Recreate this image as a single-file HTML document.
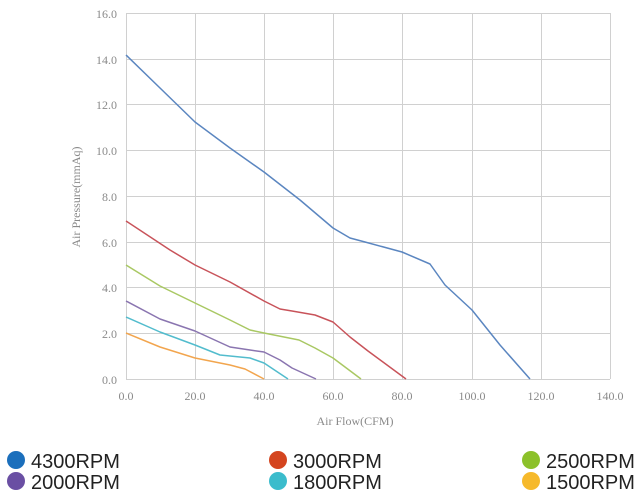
<!DOCTYPE html>
<html><head><meta charset="utf-8"><style>
html,body{margin:0;padding:0;background:#fff;width:640px;height:500px;overflow:hidden}
svg{display:block}
.t{font-family:"Liberation Serif",serif;font-size:12px;fill:#8a8a8a}
.l{font-family:"Liberation Sans",sans-serif;font-size:20px;fill:#222}
</style></head><body>
<svg width="640" height="500" viewBox="0 0 640 500">
<g stroke="#d0d0d0" stroke-width="1" fill="none">
<line x1="126" y1="13.5" x2="610" y2="13.5"/>
<line x1="126" y1="59.5" x2="610" y2="59.5"/>
<line x1="126" y1="104.5" x2="610" y2="104.5"/>
<line x1="126" y1="150.5" x2="610" y2="150.5"/>
<line x1="126" y1="196.5" x2="610" y2="196.5"/>
<line x1="126" y1="242.5" x2="610" y2="242.5"/>
<line x1="126" y1="287.5" x2="610" y2="287.5"/>
<line x1="126" y1="333.5" x2="610" y2="333.5"/>
<line x1="126" y1="379.5" x2="610" y2="379.5"/>
<line x1="126.5" y1="13" x2="126.5" y2="379"/>
<line x1="195.5" y1="13" x2="195.5" y2="379"/>
<line x1="264.5" y1="13" x2="264.5" y2="379"/>
<line x1="333.5" y1="13" x2="333.5" y2="379"/>
<line x1="402.5" y1="13" x2="402.5" y2="379"/>
<line x1="472.5" y1="13" x2="472.5" y2="379"/>
<line x1="541.5" y1="13" x2="541.5" y2="379"/>
<line x1="610.5" y1="13" x2="610.5" y2="379"/>
</g>
<g class="t" text-anchor="end">
<text x="117" y="18">16.0</text><text x="117" y="64">14.0</text><text x="117" y="109">12.0</text>
<text x="117" y="155">10.0</text><text x="117" y="201">8.0</text><text x="117" y="247">6.0</text>
<text x="117" y="292">4.0</text><text x="117" y="338">2.0</text><text x="117" y="384">0.0</text>
</g>
<g class="t" text-anchor="middle">
<text x="126" y="400">0.0</text><text x="195" y="400">20.0</text><text x="264" y="400">40.0</text>
<text x="333" y="400">60.0</text><text x="402" y="400">80.0</text><text x="472" y="400">100.0</text>
<text x="541" y="400">120.0</text><text x="610" y="400">140.0</text>
<text x="355" y="425">Air Flow(CFM)</text>
<text transform="translate(80,197) rotate(-90)" x="0" y="0">Air Pressure(mmAq)</text>
</g>
<g fill="none" stroke-width="1.5" stroke-linejoin="round">
<polyline stroke="#5b86c0" points="126,55 160,88 195,122 230,148 264,172 300,200 333,228 350,238 365,242 402,252 430,264 445,285 472,310 500,345 530,379"/>
<polyline stroke="#c8535a" points="126,221 170,250 195,265 230,282 264,301 280,309 292,311 315,315 333,322 350,337 368,351 406,379"/>
<polyline stroke="#a9c863" points="126,265 160,286 195,303 230,320 250,330 264,333 299,340 315,348 333,358 361,379"/>
<polyline stroke="#8a75b0" points="126,301 160,319 195,331 230,347 250,350 264,352 280,360 292,368 316,379"/>
<polyline stroke="#52bccd" points="126,317 160,332 195,345 220,355 230,356 250,358 264,363 288,379"/>
<polyline stroke="#f2a54e" points="126,333 160,347 195,358 215,362 230,365 245,369 264,379"/>
</g>
<circle cx="16" cy="460" r="9" fill="#1b6fbc"/><text class="l" x="31" y="468">4300RPM</text>
<circle cx="16" cy="481" r="9" fill="#6a4fa3"/><text class="l" x="31" y="489">2000RPM</text>
<circle cx="278" cy="460" r="9" fill="#d4451f"/><text class="l" x="293" y="468">3000RPM</text>
<circle cx="278" cy="481" r="9" fill="#3bbccc"/><text class="l" x="293" y="489">1800RPM</text>
<circle cx="531" cy="460" r="9" fill="#8cc12a"/><text class="l" x="546" y="468">2500RPM</text>
<circle cx="531" cy="481" r="9" fill="#f6b92b"/><text class="l" x="546" y="489">1500RPM</text>
</svg>
</body></html>
